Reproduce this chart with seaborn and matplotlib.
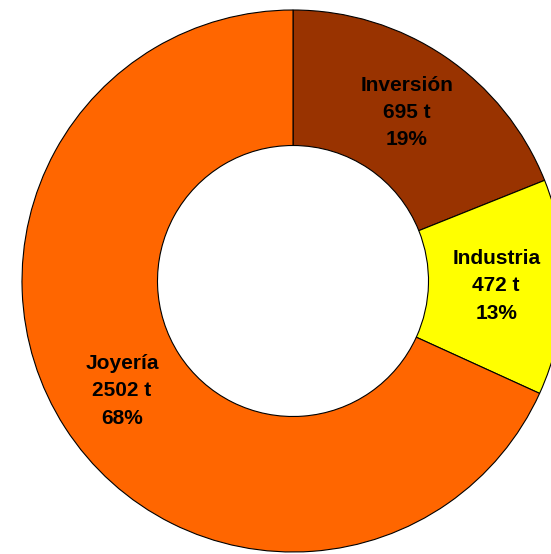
import matplotlib
matplotlib.use("Agg")
import matplotlib.pyplot as plt
import seaborn as sns

sns.set_style("white")
plt.rcParams["font.family"] = ["Liberation Sans", "DejaVu Sans"]

# data
categories = ["Inversión", "Industria", "Joyería"]
tonnes = [695, 472, 2502]
colors = ["#993300", "#FFFF00", "#FF6600"]

total = sum(tonnes)
labels = [f"{c}\n{t} t\n{round(100 * t / total)}%" for c, t in zip(categories, tonnes)]

W, H = 551, 554
fig = plt.figure(figsize=(W / 100, H / 100), dpi=100)
fig.patch.set_facecolor("white")

# circle centre (293, 281) px, radius 271 px
cx, cy, r = 293, 281, 271
ax = fig.add_axes([(cx - r) / W, (H - cy - r) / H, 2 * r / W, 2 * r / H])
ax.set_axis_off()

wedges, texts = ax.pie(
    tonnes, colors=colors, labels=labels, startangle=90, counterclock=False,
    radius=1, labeldistance=0.75,
    wedgeprops=dict(width=0.5, edgecolor="black", linewidth=0.8),
    textprops=dict(fontsize=15, fontweight="bold", color="black",
                   ha="center", va="center", linespacing=1.55),
)
for w in wedges:
    w.set_clip_on(False)
ax.set_xlim(-1, 1)
ax.set_ylim(-1, 1)
ax.set_aspect("equal")

fig.savefig("out.png", dpi=100, facecolor="white")
